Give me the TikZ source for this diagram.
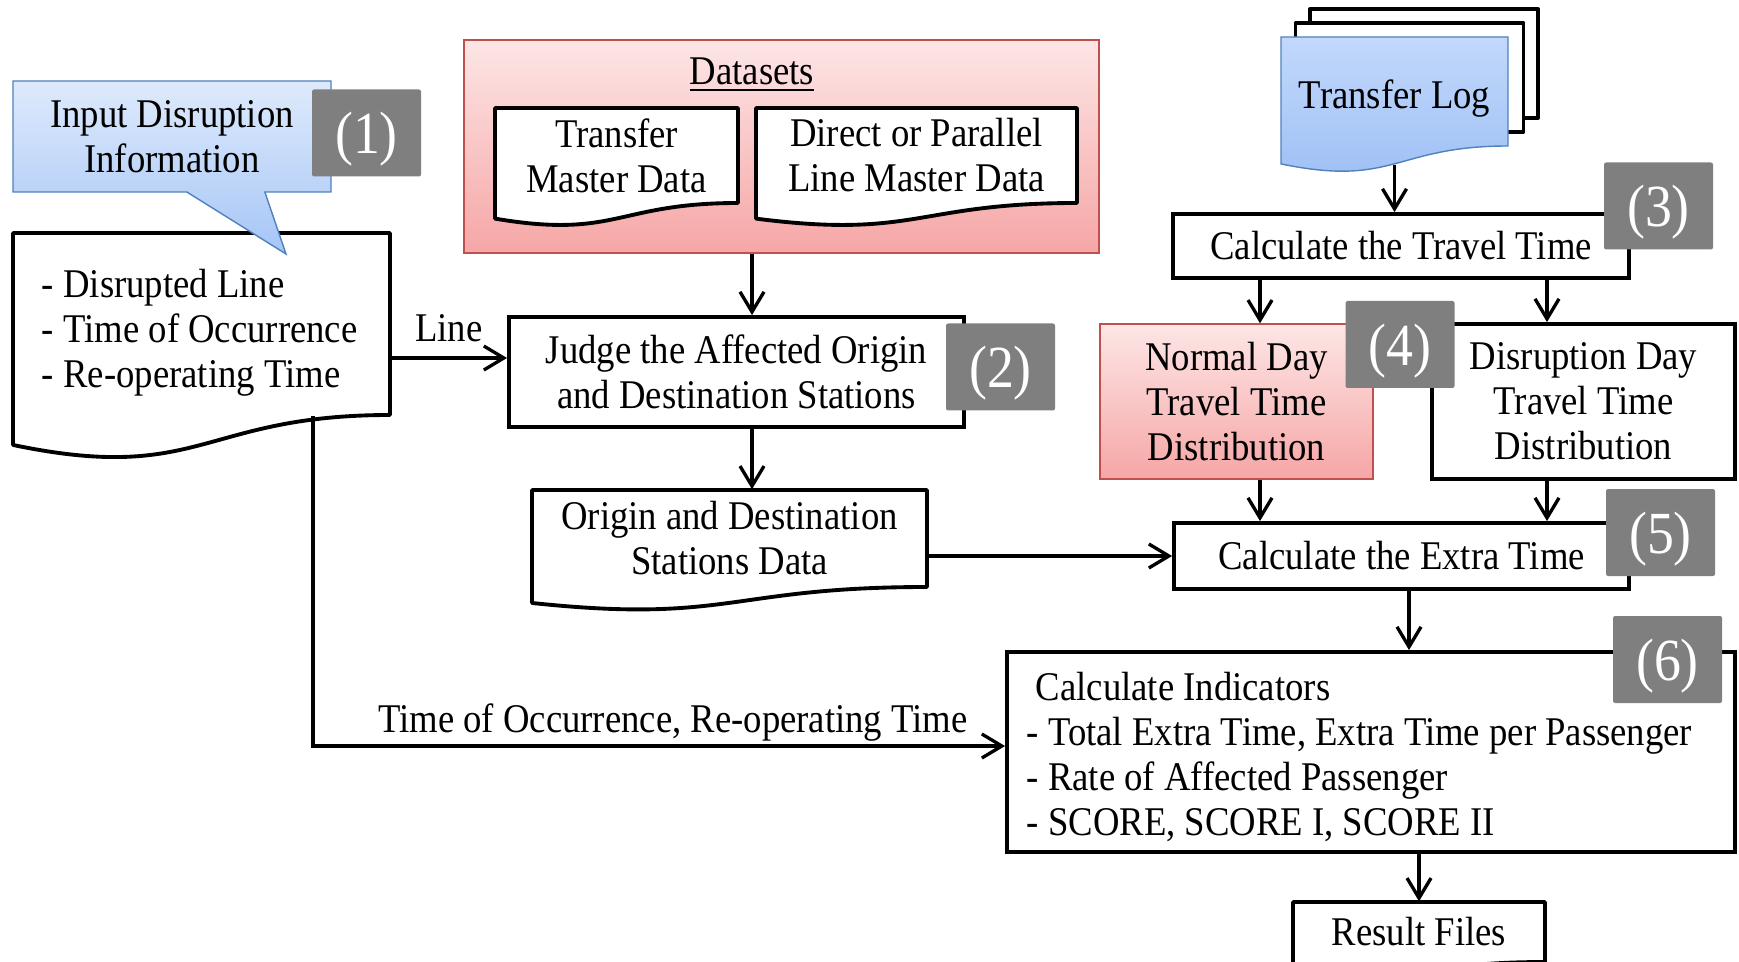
\documentclass[tikz,border=0pt]{standalone}
\usepackage{fontspec}
\setmainfont{Liberation Serif}[FakeStretch=0.9]
\usepackage{tikz}
\usetikzlibrary{arrows.meta,positioning,shapes.callouts,calc}

\definecolor{badgegray}{HTML}{7F7F7F}
\definecolor{blueline}{HTML}{4F81BD}
\definecolor{bluetop}{HTML}{DEEAFC}
\definecolor{bluebot}{HTML}{A6C6F6}
\definecolor{logtop}{HTML}{C2D8FB}
\definecolor{logbot}{HTML}{9DBFF5}
\definecolor{redline}{HTML}{C0504D}
\definecolor{redtop}{HTML}{FDE6E6}
\definecolor{redbot}{HTML}{F6A6A6}

% document shape: path options, name, x, y, width, height, node options, text
\newcommand{\docnode}[8][docline]{%
  \path[#1] ({#3-#5/2},{#4+#6/2}) -- ({#3+#5/2},{#4+#6/2}) -- ({#3+#5/2},{#4-#6/2})
    .. controls (#3,{#4-#6/2}) and (#3,{#4-#6/2-0.381*#6}) .. ({#3-#5/2},{#4-#6/2-0.1646*#6}) -- cycle;
  \node[minimum width=#5cm, minimum height=#6cm, #7] (#2) at (#3,#4) {#8};
}

\begin{document}
\begin{tikzpicture}[
    txt/.style={font=\fontsize{11.6}{12.8}\selectfont, inner sep=0pt, align=center},
    box/.style={txt, draw, line width=1.1pt},
    badge/.style={fill=badgegray, text=white, font=\fontsize{17}{20}\selectfont, inner sep=0pt,
      text height=0.53cm, text depth=0.11cm,
      minimum width=1.09cm, minimum height=0.87cm, rounded corners=0.6pt},
    flow/.style={-{Straight Barb[length=2mm,width=2.4mm]}, line width=0.95pt},
    docline/.style={draw, fill=white, line width=1.1pt, line join=round},
  ]
	\useasboundingbox (0,0) rectangle (17.39,-9.62);
	\clip (0,0) rectangle (17.39,-9.62);

	% (1) input
	\docnode{disr}{2.015}{-3.24}{3.77}{1.82}{}{}
	\node[txt, align=left, anchor=west] (disrtext) at ([xshift=0.29cm, yshift=-0.09cm]disr.west)
	  {- Disrupted Line\\- Time of Occurrence\\- Re-operating Time};
	\node[rectangle callout, txt, minimum width=3.18cm, minimum height=1.11cm, draw=blueline,
	  top color=bluetop, bottom color=bluebot, callout absolute pointer={(2.86,-2.54)},
	  callout pointer width=0.78cm] (info) at (1.72,-1.365) {Input Disruption\\Information};
	\node[badge] (b1) at (3.665,-1.33) {(1)};

	% datasets
	\node[draw=redline, top color=redtop, bottom color=redbot, minimum width=6.35cm, minimum height=2.13cm] (dsets) at (7.815,-1.465) {};
	\node[txt] (dtitle) at (7.52,-0.75) {\underline{Datasets}};
	\docnode{tmd}{6.165}{-1.555}{2.43}{0.95}{txt}{Transfer\\Master Data}
	\docnode{dlm}{9.165}{-1.555}{3.21}{0.95}{txt}{Direct or Parallel\\Line Master Data}

	% (2) judge
	\node[box, minimum width=4.55cm, minimum height=1.10cm] (judge) at (7.365,-3.72) {Judge the Affected Origin\\and Destination Stations};
	\node[badge] (b2) at (10.005,-3.67) {(2)};
	\docnode{od}{7.295}{-5.385}{3.95}{0.97}{txt}{Origin and Destination\\Stations Data}

	% transfer log
	\draw[docline] (13.10,-0.09) rectangle (15.38,-1.18);
	\draw[docline] (12.955,-0.23) rectangle (15.235,-1.32);
	\docnode[draw=blueline, top color=logtop, bottom color=logbot]{tlog}{13.945}{-0.915}{2.27}{1.09}{txt, yshift=-0.07cm}{Transfer Log}

	% (3) - (6)
	\node[box, minimum width=4.56cm, minimum height=0.64cm] (travel) at (14.01,-2.46) {Calculate the Travel Time};
	\node[badge] (b3) at (16.585,-2.06) {(3)};
	\node[txt, draw=redline, top color=redtop, bottom color=redbot, minimum width=2.73cm, minimum height=1.55cm] (normal) at (12.365,-4.015) {Normal Day\\Travel Time\\Distribution};
	\node[box, minimum width=3.03cm, minimum height=1.55cm] (dday) at (15.835,-4.015) {Disruption Day\\Travel Time\\Distribution};
	\node[badge] (b4) at (14.00,-3.445) {(4)};
	\node[box, minimum width=4.55cm, minimum height=0.66cm] (extra) at (14.015,-5.56) {Calculate the Extra Time};
	\node[badge] (b5) at (16.605,-5.325) {(5)};
	\node[box, minimum width=7.28cm, minimum height=2.00cm] (indic) at (13.71,-7.52) {};
	\node[txt, align=left, anchor=west] (indictext) at ([xshift=0.21cm, yshift=-0.05cm]indic.west)
	  {\hspace{0.09cm}Calculate Indicators\\- Total Extra Time, Extra Time per Passenger\\- Rate of Affected Passenger\\- SCORE, SCORE I, SCORE II};
	\node[badge] (b6) at (16.675,-6.595) {(6)};
	\docnode{result}{14.19}{-9.32}{2.52}{0.60}{txt}{Result Files}

	% connectors
	\coordinate (lineY) at (0,-3.58);
	\coordinate (colA) at (12.60,0);
	\coordinate (colB) at (15.47,0);
	\coordinate (colC) at (14.09,0);
	\coordinate (bend) at (3.13,-7.46);
	\draw[flow] (disr.east |- lineY) -- node[txt, above, inner sep=4pt] (linelbl) {Line} (judge.west |- lineY);
	\draw[flow] (dtitle |- dsets.south) -- (dtitle |- judge.north);
	\draw[flow] (dtitle |- judge.south) -- (dtitle |- od.north);
	\draw[flow] (od.east |- extra.west) -- (extra.west);
	\draw[flow] ([yshift=-0.11cm]tlog.south) -- (tlog.south |- travel.north);
	\draw[flow] (colA |- travel.south) -- (colA |- normal.north);
	\draw[flow] (colB |- travel.south) -- (colB |- dday.north);
	\draw[flow] (colA |- normal.south) -- (colA |- extra.north);
	\draw[flow] (colB |- dday.south) -- (colB |- extra.north);
	\draw[flow] (colC |- extra.south) -- (colC |- indic.north);
	\draw[flow] (result.north |- indic.south) -- (result.north);
	\draw[flow] (bend |- disr.south) -- (bend) -- node[txt, above, pos=0.52, inner sep=1pt] (timelbl) {Time of Occurrence, Re-operating Time} (bend -| indic.west);
\end{tikzpicture}
\end{document}
